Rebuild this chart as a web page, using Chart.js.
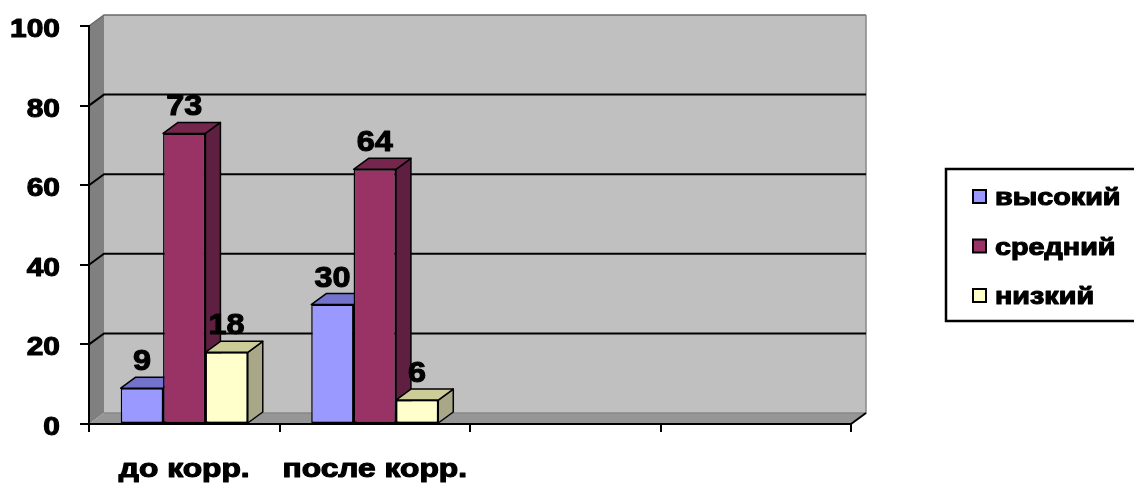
<!DOCTYPE html>
<html><head><meta charset="utf-8">
<script src="https://cdn.jsdelivr.net/npm/chart.js@4/dist/chart.umd.min.js"></script>
<style>html,body{margin:0;padding:0;background:#fff;overflow:hidden}</style>
</head><body>
<canvas id="c" width="1134" height="487" style="display:block;width:1134px;height:487px"></canvas>
<script>
const categories = ['до корр.', 'после корр.', '', ''];
const seriesNames = ['высокий', 'средний', 'низкий'];
const vysokiy = [9, 30, null, null];
const sredniy = [73, 64, null, null];
const nizkiy = [18, 6, null, null];
const yTicks = [0, 20, 40, 60, 80, 100];

const frontColors = ['#9999FF', '#993366', '#FFFFCC'];
const topColors = ['#7373CC', '#74264D', '#CCCC99'];
const sideColors = ['#6B6BB3', '#5E1F40', '#A8A888'];
const FONT = "'Liberation Sans', Arial, sans-serif";
const DX = 15, DY = 11;

function stretchText(ctx, text, x, y, size, sx, align) {
  ctx.save();
  ctx.font = 'bold ' + size + 'px ' + FONT;
  ctx.textAlign = align;
  ctx.textBaseline = 'alphabetic';
  ctx.fillStyle = '#000';
  ctx.strokeStyle = '#000';
  ctx.lineWidth = 1.1;
  ctx.lineJoin = 'round';
  ctx.translate(x, y);
  ctx.scale(sx, 1);
  ctx.fillText(text, 0, 0);
  ctx.strokeText(text, 0, 0);
  ctx.restore();
}

const wallsPlugin = {
  id: 'walls',
  beforeDraw(chart) {
    const ctx = chart.ctx;
    const {left, right, top, bottom} = chart.chartArea;
    const ys = chart.scales.y;
    ctx.save();
    ctx.fillStyle = '#C0C0C0';
    ctx.fillRect(left + DX, top - DY, right - left, bottom - top);
    ctx.fillStyle = '#808080';
    ctx.beginPath();
    ctx.moveTo(left, bottom); ctx.lineTo(left, top);
    ctx.lineTo(left + DX, top - DY); ctx.lineTo(left + DX, bottom - DY);
    ctx.closePath(); ctx.fill();
    ctx.fillStyle = '#969696';
    ctx.beginPath();
    ctx.moveTo(left, bottom); ctx.lineTo(left + DX, bottom - DY);
    ctx.lineTo(right + DX, bottom - DY); ctx.lineTo(right, bottom);
    ctx.closePath(); ctx.fill();
    ctx.strokeStyle = '#6a6a6a';
    ctx.lineWidth = 1.5;
    ctx.beginPath();
    ctx.moveTo(left, top); ctx.lineTo(left + DX, top - DY);
    ctx.lineTo(right + DX, top - DY);
    ctx.stroke();
    ctx.strokeStyle = '#888';
    ctx.beginPath();
    ctx.moveTo(right + DX, top - DY); ctx.lineTo(right + DX, bottom - DY);
    ctx.lineTo(left + DX, bottom - DY);
    ctx.stroke();
    ctx.strokeStyle = '#000';
    ctx.lineWidth = 2;
    yTicks.forEach(v => {
      if (v === 0 || v === 100) return;
      const py = ys.getPixelForValue(v);
      ctx.beginPath();
      ctx.moveTo(left, py); ctx.lineTo(left + DX, py - DY);
      ctx.lineTo(right + DX, py - DY);
      ctx.stroke();
    });
    ctx.beginPath();
    ctx.moveTo(right, bottom); ctx.lineTo(right + DX, bottom - DY);
    ctx.stroke();
    ctx.restore();
  }
};

function barProps(chart) {
  const list = [];
  chart.data.datasets.forEach((ds, di) => {
    const meta = chart.getDatasetMeta(di);
    meta.data.forEach((bar, i) => {
      if (ds.data[i] === null || ds.data[i] === undefined) return;
      const p = bar.getProps(['x', 'y', 'base', 'width'], true);
      list.push({di, value: ds.data[i], ...p});
    });
  });
  return list;
}

const bar3dPlugin = {
  id: 'bar3d',
  beforeDatasetsDraw(chart) {
    const ctx = chart.ctx;
    const bars = barProps(chart).sort((a, b) => a.x - b.x);
    ctx.save();
    ctx.strokeStyle = '#000';
    ctx.lineWidth = 1.5;
    ctx.lineJoin = 'round';
    bars.forEach(b => {
      const l = b.x - b.width / 2, r = b.x + b.width / 2;
      ctx.fillStyle = sideColors[b.di];
      ctx.beginPath();
      ctx.moveTo(r, b.y); ctx.lineTo(r + DX, b.y - DY);
      ctx.lineTo(r + DX, b.base - DY); ctx.lineTo(r, b.base);
      ctx.closePath(); ctx.fill(); ctx.stroke();
      ctx.fillStyle = topColors[b.di];
      ctx.beginPath();
      ctx.moveTo(l, b.y); ctx.lineTo(l + DX, b.y - DY);
      ctx.lineTo(r + DX, b.y - DY); ctx.lineTo(r, b.y);
      ctx.closePath(); ctx.fill(); ctx.stroke();
    });
    ctx.restore();
  },
  afterDatasetsDraw(chart) {
    const ctx = chart.ctx;
    barProps(chart).forEach(b => {
      stretchText(ctx, String(b.value), b.x, b.y - 18, 30, 1.08, 'center');
    });
  }
};

const axisLabelPlugin = {
  id: 'axisLabels',
  afterDraw(chart) {
    const ctx = chart.ctx;
    const ys = chart.scales.y, xs = chart.scales.x;
    ys.ticks.forEach((t, i) => {
      const py = ys.getPixelForTick(i);
      stretchText(ctx, String(t.value), 60, py + 11, 26, 1.15, 'right');
    });
    xs.ticks.forEach((t, i) => {
      const lbl = chart.data.labels[i];
      if (!lbl) return;
      stretchText(ctx, lbl, xs.getPixelForTick(i), 477, 25, 1.27, 'center');
    });
  }
};

const legendPlugin = {
  id: 'customLegend',
  afterDraw(chart) {
    const ctx = chart.ctx;
    ctx.save();
    ctx.strokeStyle = '#000';
    ctx.lineWidth = 2.5;
    ctx.strokeRect(946, 169, 200, 152);
    chart.data.datasets.forEach((ds, i) => {
      const base = 205 + i * 49.5;
      ctx.fillStyle = ds.backgroundColor;
      ctx.fillRect(973, base - 15, 13, 13);
      ctx.lineWidth = 2;
      ctx.strokeStyle = '#000';
      ctx.strokeRect(973, base - 15, 13, 13);
      stretchText(ctx, ds.label, 995, base, 23, 1.25, 'left');
    });
    ctx.restore();
  }
};

new Chart(document.getElementById('c'), {
  type: 'bar',
  data: {
    labels: categories,
    datasets: [
      {label: seriesNames[0], data: vysokiy, backgroundColor: frontColors[0]},
      {label: seriesNames[1], data: sredniy, backgroundColor: frontColors[1]},
      {label: seriesNames[2], data: nizkiy, backgroundColor: frontColors[2]}
    ]
  },
  options: {
    responsive: false,
    animation: false,
    devicePixelRatio: 1,
    layout: {padding: {left: 0, top: 26, right: 283, bottom: 0}},
    datasets: {bar: {categoryPercentage: 0.667, barPercentage: 1, borderWidth: 1.5, borderColor: '#000', borderSkipped: false}},
    plugins: {legend: {display: false}, tooltip: {enabled: false}},
    scales: {
      x: {
        grid: {display: true, drawOnChartArea: false, drawTicks: true, tickLength: 8, color: '#000', lineWidth: 2, offset: true},
        border: {display: true, color: '#000', width: 2},
        ticks: {display: false, autoSkip: false},
        afterFit(s) { s.height = 63; }
      },
      y: {
        min: 0, max: 100,
        grid: {display: true, drawOnChartArea: false, drawTicks: true, tickLength: 9, color: '#000', lineWidth: 2},
        border: {display: true, color: '#000', width: 2},
        ticks: {display: false, stepSize: 20},
        afterFit(s) { s.width = 89; }
      }
    }
  },
  plugins: [wallsPlugin, bar3dPlugin, axisLabelPlugin, legendPlugin]
});
</script>
</body></html>
